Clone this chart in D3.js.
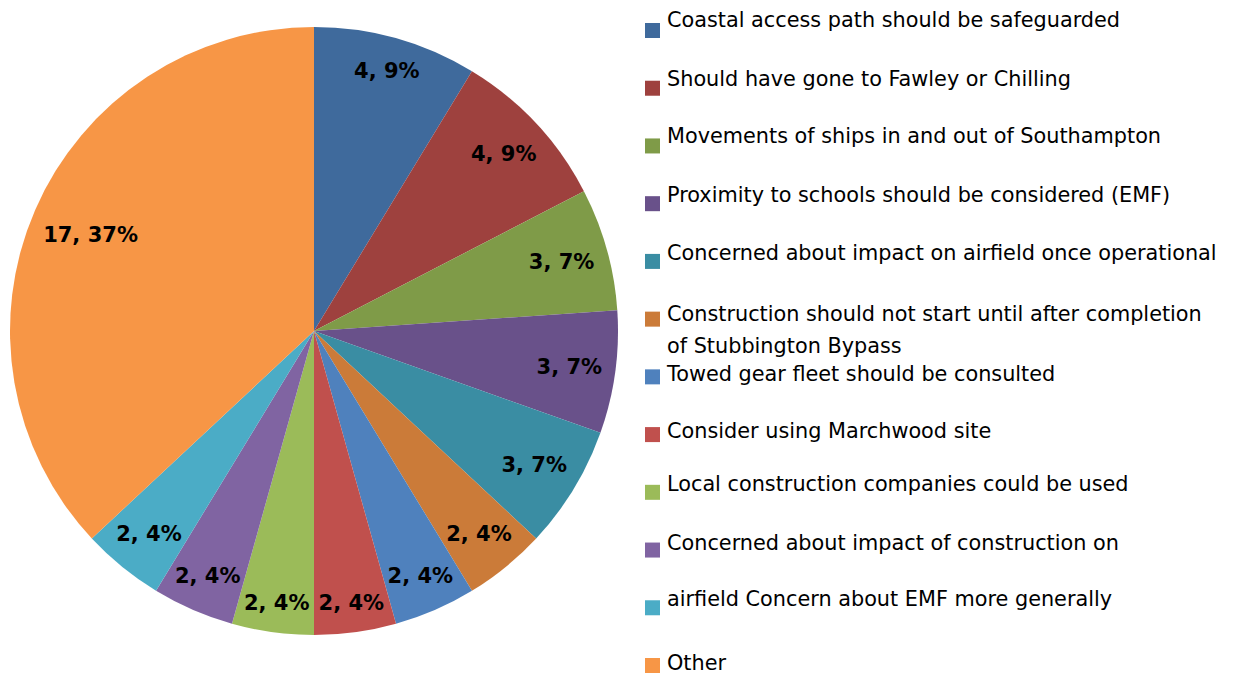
<!DOCTYPE html>
<html>
<head>
<meta charset="utf-8">
<script src="https://cdn.jsdelivr.net/npm/d3@7/dist/d3.min.js"></script>
<style>
  body { margin: 0; background: #fff; }
  text { font-family: "DejaVu Sans", Verdana, sans-serif; }
</style>
</head>
<body>
<div id="chart"></div>
<script>
// Data
var categories = [
  "Coastal access path should be safeguarded",
  "Should have gone to Fawley or Chilling",
  "Movements of ships in and out of Southampton",
  "Proximity to schools should be considered (EMF)",
  "Concerned about impact on airfield once operational",
  "Construction should not start until after completion\nof Stubbington Bypass",
  "Towed gear fleet should be consulted",
  "Consider using Marchwood site",
  "Local construction companies could be used",
  "Concerned about impact of construction on",
  "airfield Concern about EMF more generally",
  "Other"
];
var counts = [4, 4, 3, 3, 3, 2, 2, 2, 2, 2, 2, 17];
var colors = [
  "#3F6A9C", "#9E413E", "#7F9B48", "#69518A", "#3A8DA3", "#CB7B39",
  "#4F81BD", "#C0504D", "#9BBB59", "#8064A2", "#4BACC6", "#F79646"
];

var svgWidth = 1252;
var svgHeight = 675;
var cx = 314, cy = 331, radius = 304;

// small vertical nudges of legend text relative to its swatch
var legendTextShift = [4, 5, 5, 6, 6, 9, 12, 11, 6, 7, 6, 12];

var svg = d3.select("#chart")
  .append("svg")
  .attr("width", svgWidth)
  .attr("height", svgHeight);

var total = d3.sum(counts);
var pie = d3.pie().sort(null).value(d => d);
var arcs = pie(counts);
var arc = d3.arc().innerRadius(0).outerRadius(radius);

var pieGroup = svg.append("g")
  .attr("transform", `translate(${cx}, ${cy})`);

pieGroup.selectAll("path")
  .data(arcs)
  .enter()
  .append("path")
  .attr("d", arc)
  .attr("fill", (d, i) => colors[i]);

// Data labels, placed "inside end" along the slice's middle angle
var labelR = 292;
pieGroup.selectAll("text.lbl")
  .data(arcs)
  .enter()
  .append("text")
  .attr("class", "lbl")
  .attr("text-anchor", "middle")
  .attr("dy", "0.36em")
  .attr("font-size", 21)
  .attr("font-weight", "bold")
  .attr("fill", "#000")
  .text(d => d.value + ", " + Math.round(d.value / total * 100) + "%")
  .each(function(d) {
    var bb = this.getBBox();
    var mid = (d.startAngle + d.endAngle) / 2;
    var ux = Math.sin(mid), uy = -Math.cos(mid);
    var ox = (ux >= 0 ? 1 : -1) * bb.width / 2;
    var oy = (uy >= 0 ? 1 : -1) * bb.height / 2;
    var b = ux * ox + uy * oy;
    var c = ox * ox + oy * oy - labelR * labelR;
    var dist = -b + Math.sqrt(b * b - c);
    d3.select(this)
      .attr("x", ux * dist)
      .attr("y", uy * dist);
  });

// Legend
var legendY = d3.scaleLinear()
  .domain([0, categories.length - 1])
  .range([23, 658]);

var legend = svg.append("g");

var entries = legend.selectAll("g")
  .data(categories)
  .enter()
  .append("g");

entries.append("rect")
  .attr("x", 645)
  .attr("y", (d, i) => legendY(i))
  .attr("width", 15)
  .attr("height", 15)
  .attr("fill", (d, i) => colors[i]);

entries.append("text")
  .attr("font-size", 20.8)
  .attr("fill", "#000")
  .attr("y", (d, i) => legendY(i) + legendTextShift[i])
  .each(function(d, i) {
    var lines = d.split("\n");
    var t = d3.select(this);
    lines.forEach(function(line, j) {
      t.append("tspan")
        .attr("x", 667)
        .attr("dy", j === 0 ? 0 : 32)
        .text(line);
    });
  });
</script>
</body>
</html>
